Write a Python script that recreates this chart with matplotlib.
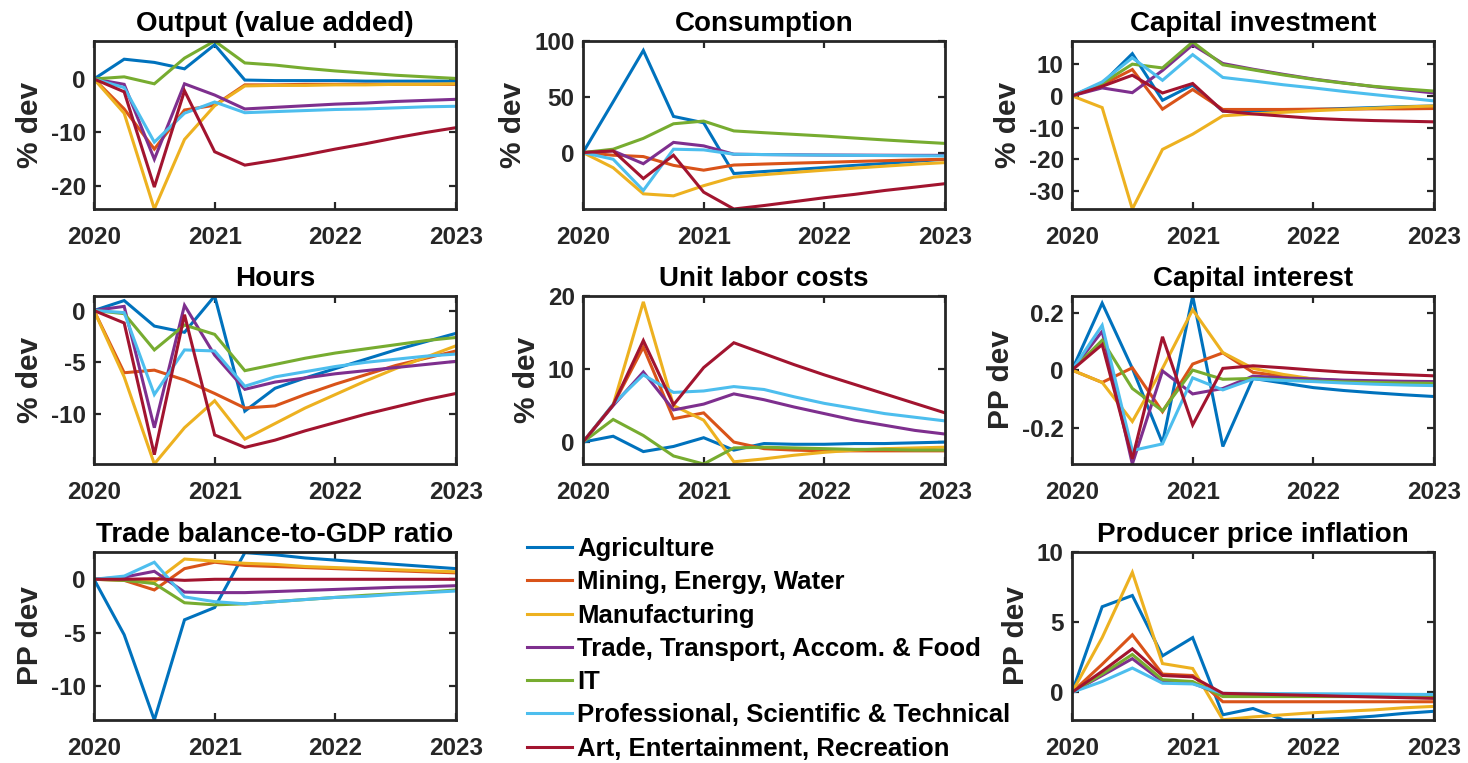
import numpy as np
import matplotlib
matplotlib.use("Agg")
import matplotlib.pyplot as plt

plt.rcParams['font.family'] = ['Liberation Sans', 'DejaVu Sans']
plt.rcParams['font.weight'] = 'bold'
plt.rcParams['axes.unicode_minus'] = False

# Quarterly horizon, 2020Q1 .. 2023Q1
quarters = [2020 + 0.25 * i for i in range(13)]

sectors = [
    "Agriculture",
    "Mining, Energy, Water",
    "Manufacturing",
    "Trade, Transport, Accom. & Food",
    "IT",
    "Professional, Scientific & Technical",
    "Art, Entertainment, Recreation",
]
colors = ["#0072BD", "#D95319", "#EDB120", "#7E2F8E", "#77AC30", "#4DBEEE", "#A2142F"]

# Output (value added), % dev
output_agri = [0, 3.7, 3.1, 1.9, 6.4, -0.2, -0.3, -0.3, -0.3, -0.4, -0.4, -0.4, -0.4]
output_mining = [0, -5.6, -13.1, -5.8, -4.9, -1.1, -1.1, -1.0, -1.0, -1.0, -1.0, -1.0, -1.0]
output_manuf = [0, -6.4, -24.3, -11.3, -5.0, -1.3, -1.2, -1.2, -1.1, -1.1, -1.0, -1.0, -0.9]
output_trade = [0, -1.0, -15.0, -0.9, -3.0, -5.6, -5.3, -5.0, -4.7, -4.5, -4.2, -4.0, -3.8]
output_it = [0, 0.4, -0.9, 3.9, 7.1, 3.0, 2.6, 2.0, 1.5, 1.1, 0.7, 0.4, 0.1]
output_prof = [0, -1.6, -11.8, -6.4, -4.3, -6.3, -6.1, -5.9, -5.7, -5.6, -5.4, -5.2, -5.1]
output_art = [0, -2.4, -20.2, -2.2, -13.6, -16.1, -15.2, -14.2, -13.1, -12.1, -11.0, -10.0, -9.1]

# Consumption, % dev
cons_agri = [0, 45.5, 91.5, 32.4, 26.7, -18.8, -17.0, -15.3, -13.5, -11.5, -9.8, -7.8, -6.0]
cons_mining = [0, -2.4, -3.6, -11.5, -15.8, -11.2, -10.3, -9.5, -8.8, -8.0, -7.3, -6.6, -6.0]
cons_manuf = [0, -13.6, -37.0, -38.8, -29.7, -22.0, -19.8, -17.8, -15.8, -14.0, -12.2, -10.5, -9.0]
cons_trade = [0, 1.5, -10.0, 9.1, 6.0, -1.5, -1.8, -2.0, -2.2, -2.3, -2.4, -2.5, -2.5]
cons_it = [0, 3.0, 12.7, 25.8, 28.2, 19.4, 17.8, 16.3, 14.8, 13.0, 11.3, 9.7, 8.2]
cons_prof = [0, -6.0, -34.0, 3.0, 2.4, -1.5, -1.8, -2.1, -2.3, -2.5, -2.7, -2.9, -3.0]
cons_art = [0, 1.5, -23.3, -2.4, -35.5, -50.6, -47.5, -44.0, -40.5, -37.5, -34.0, -31.0, -27.9]

# Capital investment, % dev
inv_agri = [0, 3.9, 13.3, -1.4, 3.4, -4.8, -4.7, -4.5, -4.3, -4.0, -3.7, -3.4, -3.2]
inv_mining = [0, 3.5, 8.3, -4.2, 2.0, -4.3, -4.3, -4.3, -4.2, -4.2, -4.1, -4.1, -4.0]
inv_manuf = [0, -3.7, -35.7, -16.9, -12.1, -6.3, -5.7, -5.2, -4.7, -4.3, -3.9, -3.5, -3.2]
inv_trade = [0, 2.5, 1.0, 8.0, 16.1, 10.2, 8.4, 6.8, 5.3, 4.1, 2.9, 1.9, 0.9]
inv_it = [0, 3.9, 10.0, 8.8, 17.0, 9.8, 8.2, 6.6, 5.2, 4.0, 3.0, 2.2, 1.5]
inv_prof = [0, 4.4, 12.0, 4.9, 13.0, 5.8, 4.7, 3.5, 2.5, 1.4, 0.4, -0.6, -1.6]
inv_art = [0, 3.0, 6.5, 0.9, 3.9, -4.8, -5.7, -6.4, -7.1, -7.5, -7.8, -8.0, -8.2]

# Hours, % dev
hours_agri = [0, 0.96, -1.5, -2.1, 1.4, -9.7, -7.5, -6.5, -5.6, -4.7, -3.8, -3.0, -2.2]
hours_mining = [0, -6.0, -5.75, -6.7, -8.0, -9.4, -9.2, -8.1, -7.1, -6.2, -5.3, -4.6, -3.9]
hours_manuf = [0, -6.4, -14.8, -11.3, -8.7, -12.4, -10.9, -9.4, -8.1, -6.8, -5.6, -4.5, -3.4]
hours_trade = [0, 0.4, -11.3, 0.5, -4.3, -7.6, -6.9, -6.5, -6.1, -5.8, -5.5, -5.2, -4.9]
hours_it = [0, -0.3, -3.8, -1.4, -2.3, -5.8, -5.2, -4.6, -4.1, -3.7, -3.3, -2.9, -2.6]
hours_prof = [0, -0.2, -8.1, -3.8, -3.9, -7.3, -6.4, -5.9, -5.4, -5.0, -4.7, -4.4, -4.2]
hours_art = [0, -1.2, -13.9, -0.4, -12.0, -13.2, -12.5, -11.6, -10.8, -10.0, -9.3, -8.6, -8.0]

# Unit labor costs, % dev
ulc_agri = [0, 0.8, -1.3, -0.6, 0.6, -1.1, -0.2, -0.3, -0.3, -0.2, -0.2, -0.1, 0.0]
ulc_mining = [0, 5.1, 13.0, 3.2, 4.0, 0.0, -0.9, -1.1, -1.2, -1.2, -1.2, -1.2, -1.2]
ulc_manuf = [0, 5.1, 19.2, 5.0, 3.0, -2.7, -2.3, -1.8, -1.4, -1.1, -0.9, -0.8, -0.7]
ulc_trade = [0, 5.0, 9.6, 4.4, 5.2, 6.6, 5.8, 4.8, 3.9, 3.0, 2.3, 1.6, 1.1]
ulc_it = [0, 3.1, 0.9, -1.9, -3.0, -0.8, -0.7, -0.8, -0.9, -1.0, -1.0, -1.1, -1.1]
ulc_prof = [0, 5.2, 9.2, 6.8, 7.0, 7.6, 7.2, 6.2, 5.3, 4.6, 3.9, 3.4, 2.9]
ulc_art = [0, 5.1, 13.9, 5.1, 10.2, 13.6, 12.1, 10.6, 9.2, 7.9, 6.6, 5.3, 4.0]

# Capital interest, PP dev
rk_agri = [0, 0.233, 0.006, -0.254, 0.258, -0.266, -0.029, -0.045, -0.061, -0.071, -0.079, -0.086, -0.092]
rk_mining = [0, -0.043, 0.008, -0.145, 0.021, 0.060, -0.008, -0.021, -0.031, -0.037, -0.041, -0.044, -0.046]
rk_manuf = [0, -0.043, -0.179, 0.006, 0.210, 0.061, 0.006, -0.015, -0.031, -0.040, -0.046, -0.050, -0.052]
rk_trade = [0, 0.135, -0.327, -0.003, -0.083, -0.064, -0.021, -0.027, -0.031, -0.035, -0.037, -0.039, -0.040]
rk_it = [0, 0.104, -0.064, -0.142, 0.0, -0.032, -0.029, -0.034, -0.038, -0.041, -0.043, -0.045, -0.046]
rk_prof = [0, 0.156, -0.280, -0.257, -0.027, -0.069, -0.031, -0.036, -0.040, -0.045, -0.049, -0.052, -0.054]
rk_art = [0, 0.089, -0.309, 0.116, -0.191, 0.006, 0.015, 0.008, 0.0, -0.007, -0.012, -0.016, -0.020]

# Trade balance-to-GDP ratio, PP dev
tb_agri = [0, -5.2, -13.2, -3.8, -2.65, 2.5, 2.3, 2.0, 1.8, 1.6, 1.4, 1.2, 1.0]
tb_mining = [0, -0.1, -1.0, 1.0, 1.6, 1.3, 1.2, 1.1, 1.0, 0.9, 0.8, 0.7, 0.6]
tb_manuf = [0, 0.0, -0.25, 1.9, 1.7, 1.5, 1.4, 1.2, 1.1, 1.0, 0.9, 0.8, 0.7]
tb_trade = [0, 0.2, 0.75, -1.2, -1.25, -1.25, -1.15, -1.05, -0.95, -0.85, -0.75, -0.7, -0.6]
tb_it = [0, -0.1, -0.4, -2.2, -2.4, -2.3, -2.1, -1.9, -1.7, -1.5, -1.35, -1.2, -1.0]
tb_prof = [0, 0.3, 1.6, -1.65, -2.1, -2.3, -2.1, -1.9, -1.7, -1.6, -1.4, -1.25, -1.1]
tb_art = [0, 0.0, 0.05, -0.1, 0.0, 0.0, 0.0, 0.0, 0.0, 0.0, 0.0, 0.0, 0.0]

# Producer price inflation, PP dev
ppi_agri = [0, 6.1, 6.9, 2.6, 3.9, -1.6, -1.15, -1.95, -1.95, -1.85, -1.7, -1.5, -1.35]
ppi_mining = [0, 2.0, 4.1, 1.3, 1.2, -0.67, -0.67, -0.67, -0.67, -0.67, -0.67, -0.67, -0.67]
ppi_manuf = [0, 3.9, 8.55, 2.05, 1.7, -1.95, -1.75, -1.6, -1.45, -1.35, -1.25, -1.1, -1.0]
ppi_trade = [0, 1.2, 2.4, 0.77, 0.65, -0.2, -0.22, -0.24, -0.26, -0.27, -0.28, -0.29, -0.3]
ppi_it = [0, 1.3, 2.7, 0.9, 0.77, -0.3, -0.3, -0.3, -0.3, -0.3, -0.3, -0.3, -0.3]
ppi_prof = [0, 0.77, 1.73, 0.65, 0.6, -0.07, -0.08, -0.09, -0.1, -0.11, -0.12, -0.14, -0.15]
ppi_art = [0, 1.5, 3.1, 1.2, 1.1, -0.07, -0.12, -0.17, -0.22, -0.28, -0.33, -0.38, -0.43]

panels = [
    ("Output (value added)", "% dev",
     [output_agri, output_mining, output_manuf, output_trade, output_it, output_prof, output_art],
     (-24.3, 7.1), [-20, -10, 0], ["-20", "-10", "0"]),
    ("Consumption", "% dev",
     [cons_agri, cons_mining, cons_manuf, cons_trade, cons_it, cons_prof, cons_art],
     (-50.6, 100), [0, 50, 100], ["0", "50", "100"]),
    ("Capital investment", "% dev",
     [inv_agri, inv_mining, inv_manuf, inv_trade, inv_it, inv_prof, inv_art],
     (-35.7, 17.3), [-30, -20, -10, 0, 10], ["-30", "-20", "-10", "0", "10"]),
    ("Hours", "% dev",
     [hours_agri, hours_mining, hours_manuf, hours_trade, hours_it, hours_prof, hours_art],
     (-14.8, 1.4), [-10, -5, 0], ["-10", "-5", "0"]),
    ("Unit labor costs", "% dev",
     [ulc_agri, ulc_mining, ulc_manuf, ulc_trade, ulc_it, ulc_prof, ulc_art],
     (-3.0, 20.0), [0, 10, 20], ["0", "10", "20"]),
    ("Capital interest", "PP dev",
     [rk_agri, rk_mining, rk_manuf, rk_trade, rk_it, rk_prof, rk_art],
     (-0.327, 0.258), [-0.2, 0, 0.2], ["-0.2", "0", "0.2"]),
    ("Trade balance-to-GDP ratio", "PP dev",
     [tb_agri, tb_mining, tb_manuf, tb_trade, tb_it, tb_prof, tb_art],
     (-13.2, 2.56), [-10, -5, 0], ["-10", "-5", "0"]),
    None,
    ("Producer price inflation", "PP dev",
     [ppi_agri, ppi_mining, ppi_manuf, ppi_trade, ppi_it, ppi_prof, ppi_art],
     (-1.97, 10.0), [0, 5, 10], ["0", "5", "10"]),
]

W, H = 1468, 763
fig = plt.figure(figsize=(W / 100, H / 100), dpi=100)

col_left = [94, 583, 1072]
row_bottom = [209, 464, 720]
ax_w, ax_h = 362, 168
spine_col = "#262626"

legend_handles = None
for idx, panel in enumerate(panels):
    if panel is None:
        continue
    r, c = divmod(idx, 3)
    ax = fig.add_axes([col_left[c] / W, 1 - row_bottom[r] / H, ax_w / W, ax_h / H])
    title, ylab, series, ylim, yt, ytl = panel
    lines = []
    for vals, col, name in zip(series, colors, sectors):
        ln, = ax.plot(quarters, vals, color=col, lw=2.2, label=name, solid_joinstyle='miter')
        lines.append(ln)
    if legend_handles is None:
        legend_handles = lines
    ax.set_xlim(2020, 2023)
    ax.set_ylim(*ylim)
    ax.set_xticks([2020, 2021, 2022, 2023])
    ax.set_xticklabels(["2020", "2021", "2022", "2023"])
    ax.set_yticks(yt)
    ax.set_yticklabels(ytl)
    ax.tick_params(direction='in', length=5, width=1.6, colors=spine_col,
                   labelsize=17.5, top=True, right=True)
    ax.tick_params(axis='x', pad=12)
    ax.tick_params(axis='y', pad=6)
    for s in ax.spines.values():
        s.set_color(spine_col)
        s.set_linewidth(2.0)
    ax.set_title(title, fontsize=20, fontweight='bold', color='black', pad=7)
    ax.set_ylabel(ylab, fontsize=21.5, fontweight='bold', color=spine_col, labelpad=5)

fig.legend(handles=legend_handles, labels=sectors, loc='upper left',
           bbox_to_anchor=(527 / W, 1 - 537 / H), frameon=False,
           fontsize=18.5, handlelength=1.75, handletextpad=0.2,
           labelspacing=0.36, borderpad=0, borderaxespad=0)

fig.savefig("out.png", dpi=100)
